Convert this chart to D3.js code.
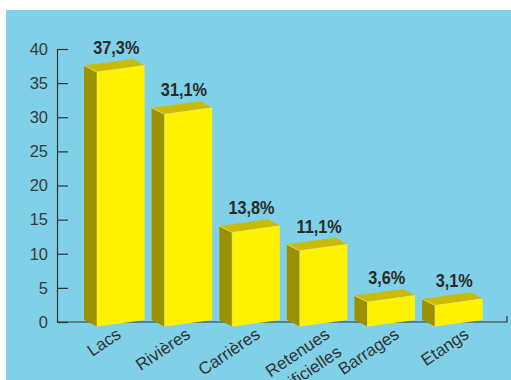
<!DOCTYPE html>
<html>
<head>
<meta charset="utf-8">
<script src="https://cdn.jsdelivr.net/npm/d3@7"></script>
<style>
  body { margin: 0; background: #fff; }
  svg { display: block; }
</style>
</head>
<body>
<script>
const categories = ["Lacs", "Rivières", "Carrières", "Retenues artificielles", "Barrages", "Etangs"]
const values = [37.3, 31.1, 13.8, 11.1, 3.6, 3.1]
const yTicks = [0, 5, 10, 15, 20, 25, 30, 35, 40]

const m = {
    width: 511,
    height: 380
}

const svg = d3.select("body").append('svg')
    .attr('width', m.width)
    .attr('height', m.height)

// blue panel
svg.append('rect')
    .attr('x', 6)
    .attr('y', 10)
    .attr('width', m.width - 6)
    .attr('height', m.height - 10)
    .attr('fill', '#80d1e8')

const y = d3.scaleLinear()
    .domain([0, 40])
    .range([322, 49])

const x = d3.scaleBand()
    .domain(categories)
    .range([87, 492.6])
    .paddingInner(0.297)
    .paddingOuter(0.1485)

const xLabel = d3.scalePoint()
    .domain(categories)
    .range([122, 470])

const fr = d3.formatLocale({decimal: ",", thousands: " ", grouping: [3], currency: ["", "€"]}).format(".1f")

const axisX0 = 57

// y axis, ticks pointing inward
const yAxis = svg.append('g')
    .attr('transform', `translate(${axisX0},0)`)
    .call(d3.axisLeft(y).tickValues(yTicks).tickSizeInner(-11).tickSizeOuter(0).tickPadding(9))

yAxis.selectAll('path, line').attr('stroke', '#333').attr('stroke-width', 1.2)
yAxis.selectAll('text')
    .attr('font-family', 'Liberation Sans, Arial, sans-serif')
    .attr('font-size', 16.5)
    .attr('fill', '#3a3a3a')

// baseline
svg.append('path')
    .attr('d', `M${axisX0},${y(0)}H507V${y(0) - 6}`)
    .attr('fill', 'none')
    .attr('stroke', '#333')
    .attr('stroke-width', 1.2)

// 3d bars
const skew = 3.3
const dy = -6.5
const dxL = -13
const dxR = -11.5
const base = y(0) + 1.3

const bars = svg.selectAll('.bar')
    .data(categories)
    .enter()
    .append('g')
        .attr('class', 'bar')

bars.each(function(c, i) {
    const g = d3.select(this)
    const L = x(c)
    const R = x(c) + x.bandwidth()
    const top = base - (y(0) - y(values[i]))
    const flt = [L, top + skew], frt = [R, top - skew]
    const flb = [L, base + skew], frb = [R, base - skew]
    const blt = [L + dxL, flt[1] + dy], brt = [R + dxR, frt[1] + dy]
    const blb = [L + dxL, flb[1] + dy]
    const poly = pts => 'M' + pts.map(p => p.join(',')).join('L') + 'Z'

    g.append('path')
        .attr('d', poly([blt, flt, flb, blb]))
        .attr('fill', '#9b9000')
    g.append('path')
        .attr('d', poly([blt, brt, frt, flt]))
        .attr('fill', '#c9bb00')
    g.append('path')
        .attr('d', poly([flt, frt, frb, flb]))
        .attr('fill', '#fff200')
    g.append('path')
        .attr('d', `M${blt}L${flt}L${frt}M${flt}L${flb}`)
        .attr('fill', 'none')
        .attr('stroke', '#eee86a')
        .attr('stroke-width', 0.7)

    g.append('text')
        .attr('transform', `translate(${(L + R) / 2 - 4.5},${top - skew + dy - 5}) scale(0.88,1)`)
        .attr('text-anchor', 'middle')
        .attr('font-family', 'Liberation Sans, Arial, sans-serif')
        .attr('font-weight', 'bold')
        .attr('font-size', 18.5)
        .attr('fill', '#2a2a2a')
        .text(fr(values[i]) + '%')
})

// category labels
const labels = svg.selectAll('.cat')
    .data(categories)
    .enter()
    .append('text')
        .attr('class', 'cat')
        .attr('transform', d => `translate(${xLabel(d)},337) rotate(-34)`)
        .attr('text-anchor', 'end')
        .attr('font-family', 'Liberation Sans, Arial, sans-serif')
        .attr('font-size', 17)
        .attr('fill', '#333')

labels.selectAll('tspan')
    .data(d => d.split(' '))
    .enter()
    .append('tspan')
        .attr('x', 0)
        .attr('dy', (d, i) => i === 0 ? 0 : '1.25em')
        .text(d => d)
</script>
</body>
</html>
